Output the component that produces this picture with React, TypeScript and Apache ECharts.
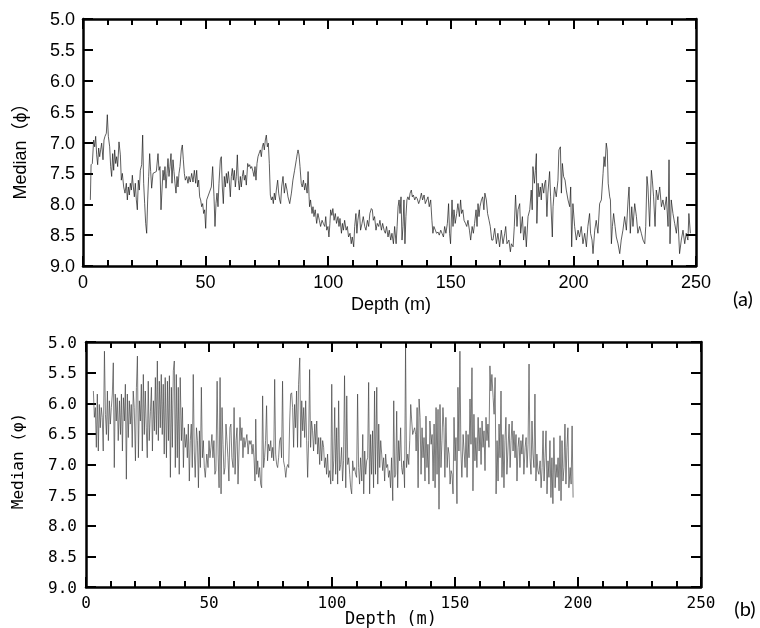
import React, { useEffect, useRef } from "react";
import * as echarts from "echarts";

// Panel (a): [depth m, median phi]
const medianA: [number, number][] = [
  [3.0,7.93],[3.3,7.36],[3.8,7.34],[4.35,6.96],[4.76,7.07],[5.17,6.9],[5.57,7.2],[5.98,7.36],[6.39,7.09],[6.8,7.23],[7.2,7.12],[7.61,7.01],[8.16,7.28],[8.56,6.96],[8.97,6.9],[9.52,6.85],[9.92,6.55],[10.33,6.9],[10.88,7.07],[11.28,7.39],[11.69,7.55],[12.1,7.18],[12.51,7.45],[12.91,7.12],[13.32,7.34],[13.73,7.23],[14.14,7.39],[14.68,6.99],[15.23,7.2],[15.63,7.61],[16.04,7.5],[16.59,7.72],[17.13,7.82],[17.67,7.66],[18.08,7.93],[18.49,7.72],[18.9,7.85],[19.3,7.66],[19.71,7.77],[20.12,7.53],[20.53,7.72],[20.94,7.88],[21.34,7.66],[21.75,7.93],[22.16,8.09],[22.57,7.61],[22.97,7.77],[23.38,7.45],[23.93,7.36],[24.33,6.88],[24.74,7.66],[25.15,7.99],[25.56,8.31],[25.97,8.47],[26.37,7.93],[26.78,7.55],[27.19,7.18],[27.6,7.47],[28.0,7.74],[28.55,7.5],[29.91,7.47],[30.59,7.18],[31.0,7.45],[31.4,7.39],[31.81,8.09],[32.22,7.77],[32.63,7.45],[33.03,7.61],[33.44,7.39],[33.85,7.74],[34.26,7.5],[34.67,7.26],[35.07,7.55],[35.48,7.39],[35.89,7.18],[36.3,7.66],[36.7,7.28],[37.11,7.47],[37.52,7.66],[37.93,7.82],[38.34,7.55],[38.74,7.72],[39.15,7.5],[39.56,7.39],[40.1,7.12],[40.51,7.04],[40.92,7.28],[41.33,7.5],[41.73,7.61],[42.28,7.55],[42.82,7.66],[43.23,7.55],[43.77,7.64],[44.32,7.5],[44.86,7.64],[45.41,7.45],[45.95,7.66],[46.36,7.45],[46.76,7.72],[47.17,7.61],[47.58,7.88],[47.99,7.93],[48.4,8.04],[48.8,7.99],[49.21,8.15],[49.62,8.09],[50.03,8.39],[50.44,7.93],[52.34,7.72],[52.88,7.39],[53.43,7.88],[53.83,8.36],[54.24,7.99],[54.65,7.82],[55.06,8.04],[55.46,7.66],[56.01,7.28],[56.42,7.23],[56.82,7.72],[57.23,7.99],[57.64,7.55],[58.05,7.72],[58.46,7.5],[58.86,7.66],[59.27,7.47],[59.68,7.64],[60.09,7.88],[60.49,7.55],[60.9,7.42],[61.31,7.61],[61.72,7.45],[62.13,7.72],[62.53,7.55],[62.94,7.2],[63.35,7.61],[63.76,7.77],[64.17,7.55],[64.57,7.72],[64.98,7.55],[65.39,7.45],[65.8,7.61],[66.2,7.53],[66.61,7.69],[67.16,7.34],[67.56,7.39],[67.97,7.36],[68.38,7.42],[68.79,7.39],[69.33,7.47],[69.74,7.55],[70.15,7.39],[70.55,7.61],[70.96,7.34],[71.37,7.23],[71.78,7.18],[72.32,7.12],[72.73,7.23],[73.14,7.07],[73.55,7.01],[73.95,7.12],[74.36,6.96],[74.77,6.88],[75.18,7.07],[75.58,7.01],[75.99,7.34],[76.4,7.85],[76.81,7.93],[77.22,7.88],[77.62,7.99],[78.03,7.82],[78.44,7.93],[78.85,7.77],[79.39,7.61],[79.8,7.82],[80.21,7.93],[80.61,7.99],[81.02,7.72],[81.57,7.55],[82.11,7.82],[82.65,7.66],[83.2,7.77],
  [83.6,7.88],[84.3,7.99],[85.0,7.82],[85.6,7.61],[86.3,7.45],[87.0,7.28],[87.4,7.18],[87.7,7.12],[88.1,7.2],[88.5,7.39],[89.0,7.66],[89.4,7.72],[89.9,7.61],[90.4,7.77],[90.8,7.66],[91.4,7.82],[91.8,7.47],[92.2,7.88],[92.4,8.04],[92.8,7.93],[93.4,8.15],[93.8,8.04],[94.2,8.2],[94.7,8.09],[95.3,8.31],[95.8,8.15],[96.4,8.26],[96.9,8.36],[97.5,8.26],[98.0,8.31],[98.6,8.36],[99.0,8.2],[99.4,8.42],[99.9,8.36],[100.3,8.53],[100.7,8.31],[101.0,8.09],[101.5,8.18],[101.9,8.07],[102.4,8.26],[102.9,8.15],[103.4,8.31],[104.0,8.2],[104.4,8.36],[104.8,8.23],[105.4,8.47],[105.8,8.31],[106.2,8.42],[106.7,8.26],[107.3,8.42],[107.8,8.36],[108.3,8.53],[108.9,8.47],[109.4,8.64],[109.8,8.53],[110.4,8.69],[110.8,8.36],[111.3,8.15],[111.7,8.47],[112.1,8.26],[112.7,8.09],[113.2,8.42],[113.8,8.31],[114.3,8.2],[114.9,8.36],[115.4,8.42],[116.0,8.26],[116.5,8.36],[117.0,8.15],[117.6,8.07],[118.0,8.09],[118.4,8.26],[118.9,8.2],[119.5,8.42],[120.0,8.31],[120.6,8.36],[121.1,8.26],[121.7,8.42],[122.2,8.31],[122.8,8.42],[123.3,8.47],[123.8,8.36],[124.4,8.53],[124.9,8.42],[125.5,8.58],[126.0,8.47],[126.6,8.64],[127.1,8.36],[127.7,8.64],[128.1,8.36],[128.5,8.04],[128.9,7.93],[129.3,8.15],[129.7,7.88],[130.1,8.58],[130.5,8.36],[130.9,7.93],[131.3,8.64],[131.7,8.2],[132.1,7.93],[132.5,7.88],[133.0,7.93],[133.4,7.82],[133.9,7.77],[134.3,7.88],[134.7,7.85],[135.3,7.93],[135.8,7.88],[136.3,7.91],[136.9,7.99],[137.4,7.93],[138.0,7.82],[138.5,7.93],[139.1,7.85],[139.6,7.99],[140.2,7.93],[140.7,7.88],[141.2,8.04],[141.8,7.93],[142.3,8.26],[142.7,8.47],[143.1,8.36],[143.7,8.42],[144.2,8.47],[144.8,8.45],[145.3,8.5],[145.9,8.42],[146.4,8.47],[147.0,8.53],[147.5,8.36],[148.0,8.47],[148.6,8.31],[149.1,7.99],[149.5,8.47],[149.9,8.64],[150.5,7.93],[150.9,8.36],[151.3,8.09],[151.8,8.31],[152.4,8.15],[152.9,7.99],[153.5,8.2],[154.0,7.93],[154.4,8.15],[154.9,8.09],[155.4,8.26],[156.0,8.31],[156.5,8.36],[157.0,8.26],[157.6,8.42],[158.1,8.58],[158.7,8.36],[159.2,8.47],[159.7,8.31],[160.3,8.09],[160.7,8.36],[161.1,7.99],[161.5,8.2],[161.9,8.04],[162.5,7.93],[163.0,7.88],[163.5,8.09],[163.9,7.82],[164.5,7.93],[165.0,8.15],[165.6,8.26],[166.1,8.36],[166.7,8.58],
  [167.2,8.58],[167.9,8.39],[168.6,8.64],[169.2,8.47],[169.9,8.69],[170.6,8.42],[171.3,8.64],[172.0,8.47],[172.4,8.36],[172.9,8.64],[173.7,8.58],[174.3,8.77],[174.7,8.64],[175.4,8.69],[175.9,8.36],[176.4,7.85],[177.0,8.36],[177.4,8.09],[178.1,7.99],[178.5,8.47],[179.2,8.2],[179.7,8.58],[180.3,8.36],[180.8,8.69],[181.5,8.2],[182.2,8.09],[182.8,7.77],[183.2,8.09],[183.5,7.39],[184.1,7.66],[184.5,7.45],[184.9,7.18],[185.1,8.31],[185.6,7.66],[186.0,7.88],[186.5,7.72],[186.9,7.93],[187.3,7.66],[187.9,7.82],[188.3,7.66],[188.7,7.61],[189.2,8.2],[189.6,7.82],[190.3,7.47],[190.7,7.88],[191.4,8.53],[191.7,8.04],[192.3,7.72],[193.0,7.88],[193.7,7.61],[194.1,7.12],[194.7,7.07],[195.1,7.82],[195.5,7.34],[196.0,7.55],[196.6,7.61],[197.1,7.77],[197.8,7.93],[198.5,8.04],[198.9,7.72],[199.3,8.69],[199.8,7.99],[200.5,8.36],[201.2,8.58],[201.9,8.42],[202.5,8.53],[203.2,8.36],[203.9,8.64],[204.6,8.47],[205.3,8.69],[205.9,8.36],[206.6,8.15],[207.0,8.47],[207.6,8.58],[208.0,8.8],[208.7,8.42],[209.3,8.26],[210.0,8.47],[210.7,7.99],[211.4,7.93],[212.1,7.5],[212.5,7.23],[212.9,7.39],[213.4,7.01],[213.8,7.12],[214.2,7.66],[214.8,7.88],[215.1,7.93],[215.5,8.64],[215.9,8.36],[216.4,8.15],[217.0,8.36],[217.5,8.53],[218.2,8.64],[218.9,8.8],[219.5,8.58],[220.2,8.42],[220.9,8.2],[221.6,8.42],[222.3,7.93],[222.7,7.72],[223.2,8.47],[223.8,8.04],[224.3,8.36],[225.0,7.99],[225.7,8.2],[226.3,8.47],[227.0,8.36],[227.7,8.47],[228.4,8.58],[229.1,8.64],[229.5,8.36],[230.0,7.55],[230.4,7.72],[231.1,8.36],[231.8,7.45],[232.2,7.61],[232.7,7.88],[233.3,8.36],[233.8,7.77],[234.5,7.93],[235.2,7.72],[235.9,8.04],[236.5,7.93],[237.2,8.09],[237.9,7.88],[238.6,8.36],[239.0,7.28],[239.4,8.64],[239.9,7.93],[240.6,8.15],[241.3,8.31],[242.0,8.47],[242.6,8.2],[243.3,8.8],[244.0,8.58],[244.7,8.42],[245.4,8.64],[246.0,8.47],[246.7,8.58],[247.1,8.15],[247.7,8.47]
];

// Panel (b): [depth m, median phi]
const medianB: [number, number][] = [
  [3.0,5.8],[3.4,6.23],[3.8,6.07],[4.2,6.72],[4.6,5.85],[5.0,6.78],[5.4,6.02],[5.8,6.4],[6.2,6.07],[6.6,6.23],[7.0,6.78],[7.5,5.15],[7.9,6.18],[8.3,6.51],[8.7,5.8],[9.1,6.61],[9.5,5.96],[9.9,6.34],[10.3,6.07],[10.7,5.85],[11.1,5.34],[11.5,7.05],[11.9,5.85],[12.3,6.29],[12.7,5.91],[13.1,6.61],[13.6,5.96],[14.0,6.51],[14.4,5.85],[14.8,6.78],[15.2,5.91],[15.6,6.29],[16.0,5.69],[16.4,7.24],[16.8,5.85],[17.2,6.56],[17.6,5.96],[18.0,6.34],[18.4,6.02],[18.8,6.72],[19.2,5.8],[19.6,6.07],[20.1,6.94],[20.5,5.74],[20.9,5.23],[21.3,6.89],[21.7,5.96],[22.1,6.29],[22.5,5.69],[22.9,6.78],[23.3,5.53],[23.7,6.51],[24.1,5.8],[24.5,6.4],[24.9,6.89],[25.3,5.64],[25.7,6.61],[26.2,6.13],[26.6,5.74],[27.0,6.78],[27.4,5.96],[27.8,6.45],[28.2,5.58],[28.6,6.51],[29.0,5.31],[29.4,6.61],[29.8,5.64],[30.2,6.4],[30.6,5.53],[31.0,6.51],[31.4,5.69],[31.8,6.83],[32.2,5.58],[32.7,6.89],[33.1,5.64],[33.5,6.61],[33.9,5.55],[34.3,7.21],[34.7,5.74],[35.1,6.72],[35.5,5.47],[35.9,5.31],[36.3,7.05],[36.7,5.53],[37.1,6.89],[37.5,5.74],[37.9,7.16],[38.3,5.58],[38.8,6.61],[39.2,6.07],[39.6,7.05],[40.0,6.4],[40.4,6.72],[40.8,6.51],[41.2,6.89],[41.6,6.34],[42.0,7.27],[42.4,6.61],[42.8,6.34],[43.2,7.05],[43.6,5.53],[44.0,6.78],[44.4,7.21],[44.9,6.4],[45.3,6.61],[45.7,7.38],[46.1,6.45],[46.5,7.05],[46.9,5.74],[47.3,6.89],[47.7,6.61],[48.1,7.05],[48.5,7.21],[49.1,6.83],[49.6,7.05],[50.0,6.61],[50.4,6.89],[50.8,6.72],[51.2,6.51],[51.6,6.89],[52.0,6.61],[52.4,7.16],[52.8,7.1],[53.3,5.64],[53.7,6.83],[54.1,7.38],[54.5,5.58],[54.9,7.48],[55.3,6.07],[55.7,6.67],[56.1,7.16],[56.5,7.05],[56.9,6.34],[57.3,6.61],[57.7,6.89],[58.1,7.27],[58.5,6.4],[58.9,6.34],[59.3,6.89],[59.8,7.05],[60.2,6.07],[60.6,7.16],[61.0,6.61],[61.4,6.4],[61.8,7.32],[62.2,6.78],[62.6,6.23],[63.0,6.61],[63.4,6.4],[63.8,6.89],[64.2,6.56],[64.6,6.72],[65.0,6.61],[65.4,6.51],[65.9,6.83],[66.3,6.61],[66.7,6.67],
  [67.1,6.61],[67.5,6.83],[67.9,6.67],[68.3,6.89],[68.7,7.27],[69.0,6.26],[69.4,7.16],[69.8,6.94],[70.2,7.21],[70.6,7.05],[71.0,7.32],[71.4,7.38],[71.8,5.88],[72.2,7.05],[72.6,6.89],[73.0,6.61],[73.4,6.04],[73.8,6.94],[74.2,6.67],[74.7,6.78],[75.1,6.61],[75.5,6.89],[75.9,6.72],[76.3,6.94],[76.7,5.61],[77.1,6.83],[77.5,7.0],[77.9,7.05],[78.3,6.89],[78.7,6.61],[79.1,6.56],[79.5,6.89],[79.9,5.64],[80.3,6.94],[80.8,7.05],[81.2,7.21],[81.6,7.05],[82.0,7.0],[82.4,7.05],[82.8,6.29],[83.2,5.85],[83.6,5.83],[84.0,6.07],[84.4,6.72],[84.8,6.02],[85.2,6.4],[85.6,5.8],[86.0,6.72],[86.4,5.69],[86.9,5.26],[87.3,6.72],[87.7,5.96],[88.1,6.45],[88.5,6.07],[88.9,6.56],[89.3,5.96],[89.7,6.61],[90.1,7.21],[90.5,6.61],[90.9,5.45],[91.3,6.72],[91.7,6.29],[92.1,6.45],[92.5,6.78],[93.0,6.34],[93.4,6.67],[93.8,6.29],[94.2,6.83],[94.6,6.56],[95.0,7.0],[95.4,6.56],[95.8,6.94],[96.2,6.61],[96.6,6.72],[97.0,7.05],[97.4,6.89],[97.8,7.16],[98.2,6.83],[98.6,7.21],[99.1,7.1],[99.5,7.32],[99.9,5.69],[100.3,7.27],[100.7,6.94],[101.1,6.07],[101.5,7.16],[101.9,6.4],[102.3,7.32],[102.7,5.96],[103.1,7.1],[103.5,7.0],[103.9,6.72],[104.3,7.27],[104.7,6.94],[105.1,5.55],[105.6,7.38],[106.0,5.88],[106.4,7.0],[106.8,6.89],[107.2,7.16],[107.6,7.38],[108.0,7.48],[108.4,6.94],[108.8,7.1],[109.2,7.05],[109.6,7.16],[110.0,7.21],[110.4,5.85],[110.8,7.05],[111.2,7.32],[111.6,6.89],[112.1,7.27],[112.5,6.51],[112.9,7.48],[113.3,6.78],[113.7,7.16],[114.1,6.94],[114.5,6.89],[114.9,5.66],[115.3,7.48],[115.7,6.51],[116.1,7.16],[116.5,6.45],[116.9,7.38],[117.3,5.8],[117.7,7.16],[118.2,5.74],[118.6,7.32],[119.0,6.34],[119.4,7.05],[119.8,6.61],[120.2,6.83],[120.6,7.1],[121.0,6.89],[121.4,7.27],[121.8,6.83],[122.2,7.05],[122.6,7.0],[123.0,7.21],[123.4,7.1],[123.8,7.38],[124.2,6.89],[124.7,7.59],[125.1,5.96],[125.5,7.21],[125.9,7.16],[126.3,6.13],[126.7,7.38],[127.1,6.61],[127.5,6.94],[127.9,6.4],[128.3,7.05],[128.7,7.16],[129.1,6.94],[129.5,7.38],[129.9,5.09],[130.3,7.05],[130.8,6.83],[131.2,7.0],[131.6,6.61],[132.0,6.02],[132.4,6.29],[132.8,6.51],[133.2,6.45],[133.6,6.4],[134.0,6.51],
  [134.2,6.78],[134.6,6.07],[135.0,7.38],[135.4,5.93],[135.8,6.23],[136.2,7.16],[136.6,6.4],[137.0,6.89],[137.4,6.56],[137.8,7.27],[138.2,6.21],[138.6,7.05],[139.0,6.67],[139.4,7.32],[139.8,6.29],[140.3,6.67],[140.7,6.51],[141.1,7.27],[141.5,6.34],[141.9,7.38],[142.3,6.07],[142.7,7.16],[143.1,6.1],[143.5,7.73],[143.9,6.02],[144.3,7.05],[144.7,6.61],[145.1,6.07],[145.5,6.4],[145.9,7.21],[146.3,6.23],[146.8,7.05],[147.2,6.72],[147.6,6.83],[148.0,7.32],[148.4,7.1],[148.8,7.16],[149.2,7.48],[149.6,6.23],[150.0,6.94],[150.4,6.56],[150.8,7.64],[151.2,5.74],[151.6,6.78],[152.0,5.15],[152.4,6.78],[152.8,7.21],[153.3,6.51],[153.7,6.78],[154.1,7.05],[154.5,6.45],[154.9,7.21],[155.3,6.51],[155.7,6.89],[156.1,5.93],[156.5,6.67],[156.9,5.42],[157.3,7.43],[157.7,6.18],[158.1,6.94],[158.5,6.56],[158.9,7.05],[159.4,6.23],[159.8,6.78],[160.2,6.4],[160.6,7.0],[161.0,6.29],[161.4,6.72],[161.8,6.45],[162.2,7.1],[162.6,6.23],[163.0,6.61],[163.4,6.34],[163.8,6.72],[164.2,5.39],[164.6,5.8],[165.0,5.53],[165.5,5.91],[165.9,6.18],[166.3,5.58],[166.7,7.48],[167.1,6.61],[167.5,7.27],[167.9,6.34],[168.3,6.89],[168.7,5.8],[169.1,7.21],[169.5,6.51],[169.9,7.38],[170.3,6.61],[170.7,6.23],[171.1,7.16],[171.5,6.78],[172.0,6.34],[172.4,7.05],[172.8,6.61],[173.2,6.29],[173.6,6.78],[174.0,6.45],[174.4,6.89],[174.8,6.51],[175.2,7.27],[175.6,6.72],[176.0,6.56],[176.4,7.05],[176.8,6.61],[177.2,6.83],[177.6,6.51],[178.0,7.16],[178.5,6.72],[178.9,6.56],[179.3,7.05],[179.7,6.67],[180.1,5.36],[180.5,6.89],[180.9,7.16],[181.3,6.29],[181.7,6.83],[182.1,7.05],[182.5,5.85],[182.9,7.27],[183.3,6.83],[183.7,7.1],[184.1,7.16],[184.6,6.94],[185.0,7.38],[185.4,7.05],[185.8,6.45],[186.2,7.27],[186.6,6.89],[187.0,6.45],[187.4,7.48],[187.8,6.94],[188.2,7.21],[188.6,6.61],[189.0,7.54],[189.4,6.89],[189.8,7.64],[190.2,6.56],[190.7,7.38],[191.1,7.0],[191.5,7.21],[191.9,6.89],[192.3,7.43],[192.7,6.53],[193.1,7.59],[193.5,6.61],[193.9,7.27],[194.3,7.05],[194.7,6.34],[195.1,7.32],[195.5,6.72],[195.9,6.4],[196.3,7.38],[196.8,7.05],[197.2,7.32],[197.6,6.37],[198.0,7.54]
];

const DEPTH_MIN = 0;
const DEPTH_MAX = 250;
const DEPTH_STEP = 50;
const PHI_MIN = 5;
const PHI_MAX = 9;
const PHI_STEP = 0.5;

const SANS = "'Liberation Sans', Arial, Helvetica, sans-serif";
const MONO = "'DejaVu Sans Mono', 'Liberation Mono', monospace";
const LABEL_FONT = "Lato, 'Open Sans', sans-serif";
const TICK_COLOR = "#000";

function frame() {
  return { show: true, onZero: false, lineStyle: { color: "#000", width: 2.5 } };
}

function xAxes(gridIndex: number, font: string, size: number) {
  const mk = (position: string, label: any) => ({
    type: "value",
    gridIndex,
    position,
    min: DEPTH_MIN,
    max: DEPTH_MAX,
    interval: DEPTH_STEP,
    axisLine: frame(),
    axisTick: { show: true, inside: true, length: 10, lineStyle: { color: TICK_COLOR, width: 2 } },
    minorTick: { show: true, splitNumber: 5, length: 6, lineStyle: { color: TICK_COLOR, width: 2 } },
    splitLine: { show: false },
    axisLabel: label,
  });
  return [
    mk("bottom", { show: true, color: "#000", fontSize: size, fontFamily: font, margin: 7 }),
    mk("top", { show: false }),
  ];
}

function yAxes(gridIndex: number, font: string, size: number, margin: number) {
  const mk = (position: string, label: any) => ({
    type: "value",
    gridIndex,
    position,
    min: PHI_MIN,
    max: PHI_MAX,
    interval: PHI_STEP,
    inverse: true,
    axisLine: frame(),
    axisTick: { show: true, inside: true, length: 10, lineStyle: { color: TICK_COLOR, width: 2 } },
    splitLine: { show: false },
    axisLabel: label,
  });
  return [
    mk("left", {
      show: true,
      color: "#000",
      fontSize: size,
      fontFamily: font,
      margin,
      formatter: (v: number) => v.toFixed(1),
    }),
    mk("right", { show: false }),
  ];
}

function txt(text: string, x: number, y: number, font: string, size: number, rotate = 0) {
  return {
    type: "text",
    x,
    y,
    rotation: rotate,
    style: {
      text,
      fill: "#000",
      fontSize: size,
      fontFamily: font,
      align: "center",
      verticalAlign: "middle",
    },
  };
}

export default function App() {
  const ref = useRef<HTMLDivElement>(null);
  useEffect(() => {
    if (!ref.current) return;
    const chart = echarts.init(ref.current, null, { renderer: "svg" });
    chart.setOption({
      animation: false,
      grid: [
        { left: 83, top: 19, right: 64, bottom: 362 },
        { left: 86, top: 342, right: 59, bottom: 41 },
      ],
      xAxis: [...xAxes(0, SANS, 18), ...xAxes(1, MONO, 16)],
      yAxis: [...yAxes(0, SANS, 18, 8), ...yAxes(1, MONO, 16, 9)],
      series: [
        {
          type: "line",
          xAxisIndex: 0,
          yAxisIndex: 0,
          data: medianA,
          symbol: "none",
          lineStyle: { color: "#1a1a1a", width: 0.7 },
        },
        {
          type: "line",
          xAxisIndex: 2,
          yAxisIndex: 2,
          data: medianB,
          symbol: "none",
          lineStyle: { color: "#3a3a3a", width: 0.65 },
        },
      ],
      graphic: [
        txt("Median（ϕ）", 20, 147, SANS + ", 'Noto Sans CJK JP'", 18, Math.PI / 2),
        txt("Depth (m)", 391, 304, SANS, 18),
        txt("(a)", 743, 298, LABEL_FONT, 20),
        txt("Median (φ)", 17, 461, MONO, 16, Math.PI / 2),
        txt("Depth (m)", 391, 618, MONO, 17),
        txt("(b)", 745, 608, LABEL_FONT, 20),
      ],
    } as any);
    return () => chart.dispose();
  }, []);
  return (
    <div
      ref={ref}
      style={{ position: "fixed", left: 0, top: 0, width: 760, height: 628 }}
    />
  );
}
